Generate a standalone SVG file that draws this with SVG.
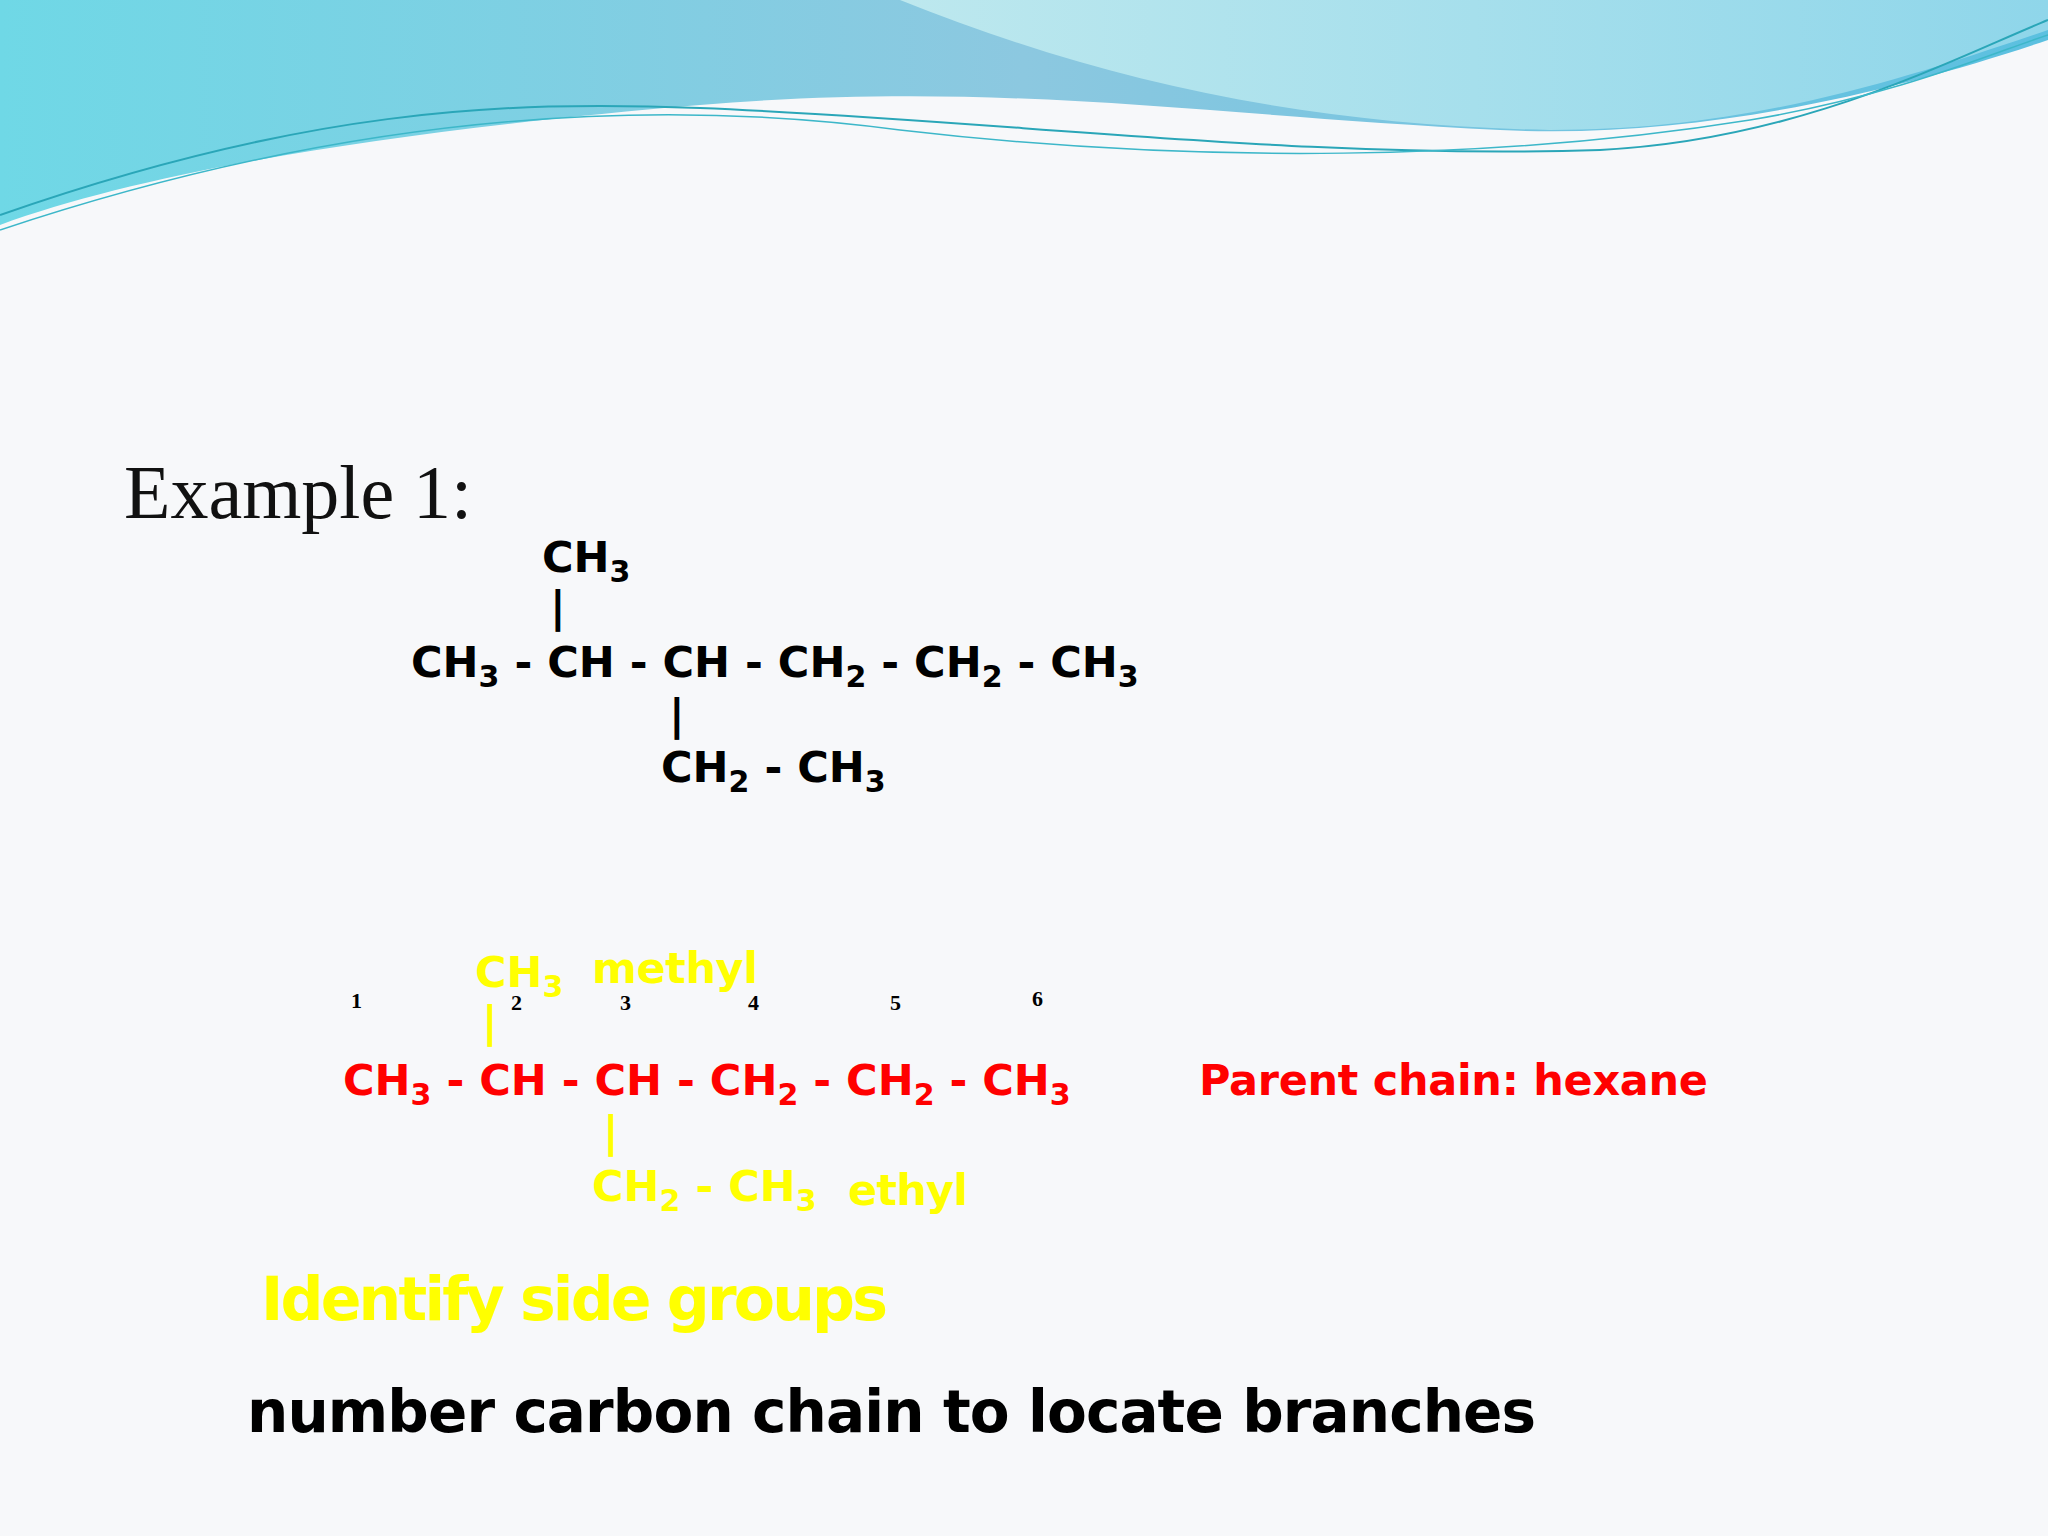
<svg xmlns="http://www.w3.org/2000/svg" width="2048" height="1536" viewBox="0 0 2048 1536">
<defs>
<linearGradient id="wave" x1="0" y1="0" x2="1" y2="0">
<stop offset="0" stop-color="#6fd8e6"/><stop offset="0.5" stop-color="#8cc8e0"/><stop offset="1" stop-color="#5bc0e0"/>
</linearGradient>
<linearGradient id="wave2" x1="0" y1="0" x2="1" y2="0">
<stop offset="0" stop-color="#bde8ee"/><stop offset="1" stop-color="#8fd6ea"/>
</linearGradient>
</defs>
<style>
.t{font-family:"DejaVu Sans","Liberation Sans",sans-serif;font-weight:bold;font-size:43px}
.k{fill:#000}.r{fill:#ff0000}.y{fill:#ffff00}
.n{font-family:"Liberation Serif",serif;font-weight:bold;font-size:22px;fill:#000}
</style>
<rect width="2048" height="1536" fill="#f7f8fa"/>
<g id="background">
<path d="M0 0 H2048 V40 C1900 90 1700 140 1500 130 C1200 115 1000 80 700 105 C400 130 150 170 0 225 Z" fill="url(#wave)"/>
<path d="M900 0 C1100 80 1300 125 1550 130 C1750 130 1900 80 2048 30 V0 Z" fill="url(#wave2)"/>
<path d="M0 215 C300 110 500 100 700 108 C1000 120 1300 160 1600 150 C1800 140 1950 60 2048 20" fill="none" stroke="#2aa6b8" stroke-width="2"/>
<path d="M0 230 C300 130 600 90 900 130 C1200 165 1500 160 1750 120 C1900 95 2000 50 2048 35" fill="none" stroke="#3db7c9" stroke-width="1.5"/>
</g>
<g id="title"><text x="124" y="518" font-family="'Liberation Serif',serif" font-size="76" fill="#111">Example 1:</text></g>
<g id="formula1" class="t k">
<text x="542" y="572">CH<tspan font-size="30" dy="10">3</tspan></text>
<text x="550" y="622">|</text>
<text x="411" y="677">CH<tspan font-size="30" dy="10">3</tspan><tspan dy="-10"> - CH - CH - CH</tspan><tspan font-size="30" dy="10">2</tspan><tspan dy="-10"> - CH</tspan><tspan font-size="30" dy="10">2</tspan><tspan dy="-10"> - CH</tspan><tspan font-size="30" dy="10">3</tspan></text>
<text x="669" y="730">|</text>
<text x="661" y="782">CH<tspan font-size="30" dy="10">2</tspan><tspan dy="-10"> - CH</tspan><tspan font-size="30" dy="10">3</tspan></text>
</g>
<g id="numbers">
<text class="n" x="351" y="1008">1</text><text class="n" x="511" y="1010">2</text><text class="n" x="620" y="1010">3</text>
<text class="n" x="748" y="1010">4</text><text class="n" x="890" y="1010">5</text><text class="n" x="1032" y="1006">6</text>
</g>
<g id="formula2" class="t">
<text class="y" x="475" y="987">CH<tspan font-size="30" dy="10">3</tspan></text>
<text class="y" x="592" y="983" textLength="166">methyl</text>
<text class="y" x="482" y="1037">|</text>
<text class="r" x="343" y="1095">CH<tspan font-size="30" dy="10">3</tspan><tspan dy="-10"> - CH - CH - CH</tspan><tspan font-size="30" dy="10">2</tspan><tspan dy="-10"> - CH</tspan><tspan font-size="30" dy="10">2</tspan><tspan dy="-10"> - CH</tspan><tspan font-size="30" dy="10">3</tspan></text>
<text class="y" x="603" y="1147">|</text>
<text class="y" x="592" y="1201">CH<tspan font-size="30" dy="10">2</tspan><tspan dy="-10"> - CH</tspan><tspan font-size="30" dy="10">3</tspan></text>
<text class="y" x="848" y="1205" textLength="120">ethyl</text>
<text class="r" x="1199" y="1095" textLength="509">Parent chain: hexane</text>
</g>
<g id="captions">
<text x="261" y="1320" font-family="'DejaVu Sans',sans-serif" font-weight="bold" font-size="60" fill="#ffff00" textLength="627">Identify side groups</text>
<text x="247" y="1432" font-family="'DejaVu Sans',sans-serif" font-weight="bold" font-size="58" fill="#000" textLength="1289">number carbon chain to locate branches</text>
</g>
</svg>
